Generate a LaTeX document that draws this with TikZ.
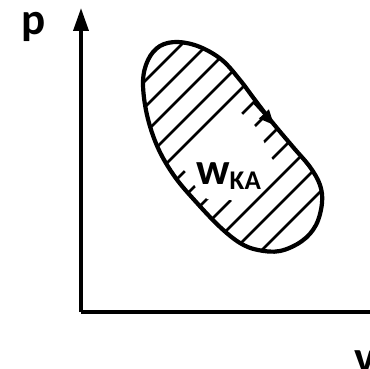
\documentclass[tikz,border=0pt]{standalone}
\usepackage{fontspec}
\setmainfont{Carlito}
\usepackage{tikz}
\usetikzlibrary{arrows.meta}
\tikzset{
  axis/.style={line width=3.6pt,black},
  loopline/.style={line width=4.2pt,black,line join=round},
  hatchline/.style={line width=2.6pt,black},
  bigtxt/.style={font=\bfseries\fontsize{45}{45}\selectfont,inner sep=0pt},
  flowtip/.style={-{Triangle[length=15pt,width=13pt]},line width=2pt}
}

\begin{document}
\begin{tikzpicture}[x=1pt,y=-1pt]
  \useasboundingbox (0,0) rectangle (370,369);
  % axes
  \coordinate (O) at (81,312);
  \coordinate (ytop) at (81,8);
  \coordinate (xend) at (374,312);
  \draw[axis,-{Triangle[length=23pt,width=15pt]}] (O) -- (ytop);
  \draw[axis] (O) -- (xend);
  \node[bigtxt,anchor=base west] (plabel) at (21,35) {p};
  \node[bigtxt,anchor=base west] (vlabel) at (354,372) {v};
  % hatched cycle
  \def\loopcurve{plot[smooth cycle,tension=0.6] coordinates {
    (160,46) (178,42) (200,47) (222,60) (240,80) (255,100) (272,122)
    (293,147) (310,167) (320,185) (322,203) (316,225) (302,241) (280,251)
    (258,250) (240,243) (220,227) (197,203) (175,177) (158,148) (147,115)
    (143,82) (148,60)}}
  \begin{scope}
    \clip \loopcurve;
    \foreach \c in {226,252,278,304,330,356,381,406,431,457,484,512}
      \draw[hatchline] (100,\c-100) -- (360,\c-360);
    \fill[white] (178,165) -- (236,107) -- (242,114) -- (255,126) -- (264,142)
      -- (272,159) -- (279,165) -- (238,206) -- (231,200) -- (207,199)
      -- (195,186) -- (185,171) -- cycle;
  \end{scope}
  \draw[loopline] \loopcurve;
  \coordinate (a1) at (254,103);
  \coordinate (a2) at (274,125);
  \draw[flowtip] (a1) -- (a2);
  \node[bigtxt,anchor=base west] (work) at (196,185)
    {w\raisebox{-5pt}{\fontsize{27}{27}\selectfont KA}};
\end{tikzpicture}
\end{document}
